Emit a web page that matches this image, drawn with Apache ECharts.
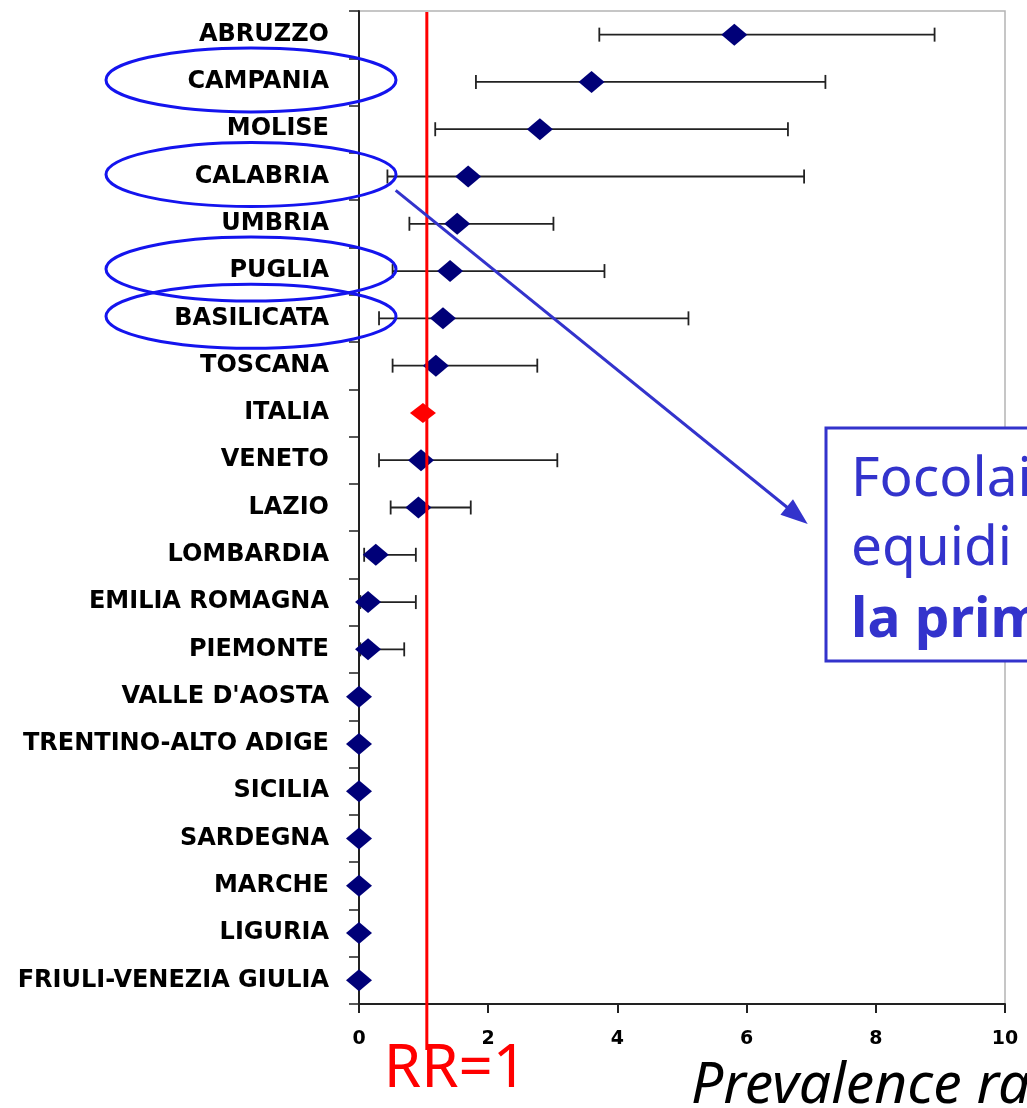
<!DOCTYPE html>
<html>
<head>
<meta charset="utf-8">
<script src="https://cdn.jsdelivr.net/npm/echarts@6/dist/echarts.min.js"></script>
<style>
html,body{margin:0;padding:0;background:#fff;}
#chart{width:1027px;height:1108px;}
</style>
</head>
<body>
<div id="chart"></div>
<script>
// ---- data ----
var categories = ['ABRUZZO','CAMPANIA','MOLISE','CALABRIA','UMBRIA','PUGLIA','BASILICATA','TOSCANA','ITALIA','VENETO','LAZIO','LOMBARDIA','EMILIA ROMAGNA','PIEMONTE',"VALLE D'AOSTA",'TRENTINO-ALTO ADIGE','SICILIA','SARDEGNA','MARCHE','LIGURIA','FRIULI-VENEZIA GIULIA'];
var estimate = [5.81, 3.60, 2.80, 1.69, 1.52, 1.41, 1.30, 1.19, 0.99, 0.96, 0.92, 0.26, 0.14, 0.14, 0, 0, 0, 0, 0, 0, 0];
var lower    = [3.72, 1.81, 1.18, 0.44, 0.78, 0.52, 0.31, 0.52, null, 0.31, 0.49, 0.08, 0.02, 0.02, null, null, null, null, null, null, null];
var upper    = [8.91, 7.22, 6.64, 6.89, 3.01, 3.80, 5.10, 2.76, null, 3.07, 1.73, 0.88, 0.88, 0.70, null, null, null, null, null, null, null];
var xTicks = [0, 2, 4, 6, 8, 10];
var referenceRR = 1.05;              // position of the red RR=1 line as drawn
var highlighted = ['CAMPANIA','CALABRIA','PUGLIA','BASILICATA'];
var xAxisName = 'Prevalence ratio';
var rrLabel = 'RR=1';
var noteLines = ['Focolai di WND negli', 'equidi con sintomi:', 'la prima volta'];

// ---- build series data ----
var italiaIdx = categories.indexOf('ITALIA');
var regionPoints = [], italiaPoints = [], ciData = [];
categories.forEach(function (c, i) {
  if (i === italiaIdx) italiaPoints.push([estimate[i], i]);
  else regionPoints.push([estimate[i], i]);
  if (lower[i] != null && upper[i] != null) ciData.push([i, lower[i], upper[i]]);
});

var chart = echarts.init(document.getElementById('chart'), null, {renderer: 'canvas'});

var option = {
  backgroundColor: '#ffffff',
  animation: false,
  grid: {left: 359, right: 22, top: 11, bottom: 104, show: true, borderColor: '#b4b4b4', borderWidth: 1.5,
         containLabel: false, outerBoundsMode: 'none'},
  xAxis: {
    type: 'value', min: xTicks[0], max: xTicks[xTicks.length - 1], interval: 2,
    axisLine: {show: true, onZero: false, lineStyle: {color: '#222', width: 2}},
    axisTick: {show: true, length: 9, lineStyle: {color: '#222', width: 2}},
    splitLine: {show: false},
    axisLabel: {color: '#000', fontFamily: 'DejaVu Sans', fontWeight: 'bold', fontSize: 19, margin: 26},
    name: xAxisName, nameLocation: 'middle', nameGap: 54,
    nameTextStyle: {color: '#000', fontFamily: 'Noto Sans', fontStyle: 'italic', fontSize: 57, align: 'left', padding: [0, 0, 0, 9]}
  },
  yAxis: {
    type: 'category', data: categories, inverse: true, boundaryGap: true,
    axisLine: {show: true, lineStyle: {color: '#222', width: 2}},
    axisTick: {show: true, length: 10, alignWithLabel: false, lineStyle: {color: '#222', width: 1.5}},
    splitLine: {show: false},
    axisLabel: {color: '#000', fontFamily: 'DejaVu Sans', fontWeight: 'bold', fontSize: 24, margin: 30, interval: 0}
  },
  series: [
    {
      type: 'custom', name: 'CI', data: ciData, z: 2,
      encode: {x: [1, 2], y: 0},
      renderItem: function (params, api) {
        var cat = api.value(0);
        var p1 = api.coord([api.value(1), cat]);
        var p2 = api.coord([api.value(2), cat]);
        var h = 7;
        var st = {stroke: '#222222', lineWidth: 1.8};
        return {type: 'group', children: [
          {type: 'line', shape: {x1: p1[0], y1: p1[1], x2: p2[0], y2: p2[1]}, style: st},
          {type: 'line', shape: {x1: p1[0], y1: p1[1] - h, x2: p1[0], y2: p1[1] + h}, style: st},
          {type: 'line', shape: {x1: p2[0], y1: p2[1] - h, x2: p2[0], y2: p2[1] + h}, style: st}
        ]};
      }
    },
    {
      type: 'scatter', name: 'Regioni', data: regionPoints, z: 3,
      symbol: 'diamond', symbolSize: [26, 22],
      itemStyle: {color: '#000078', opacity: 1}
    },
    {
      type: 'scatter', name: 'Italia', data: italiaPoints, z: 3,
      symbol: 'diamond', symbolSize: [26, 20],
      itemStyle: {color: '#ff0000', opacity: 1}
    }
  ]
};
chart.setOption(option);

// ---- annotations positioned from the chart's own scales ----
var topPix = chart.convertToPixel({gridIndex: 0}, [referenceRR, 0]);
var rrX = topPix[0];
var gridTop = 11;
var graphics = [];

graphics.push({
  type: 'line', z: 100,
  shape: {x1: rrX, y1: gridTop + 1, x2: rrX, y2: 1050},
  style: {stroke: '#ff0000', lineWidth: 3}
});
graphics.push({
  type: 'text', z: 100, x: rrX - 43, y: 1070,
  style: {text: rrLabel, fill: '#ff0000', font: '60px "Noto Sans"', align: 'left', verticalAlign: 'middle'}
});

// ellipses around highlighted regions
var ellipseCenters = {};
highlighted.forEach(function (name) {
  var idx = categories.indexOf(name);
  var p = chart.convertToPixel({gridIndex: 0}, [0, idx]);
  var cy = p[1] - 2;
  ellipseCenters[name] = cy;
  graphics.push({
    type: 'ellipse', z: 100,
    shape: {cx: 251, cy: cy, rx: 145, ry: 32},
    style: {fill: null, stroke: '#1414ee', lineWidth: 3}
  });
});

// arrow from CALABRIA ellipse to the note box
var ax1 = 395.7, ay1 = ellipseCenters['CALABRIA'] + 15.8;
var ax2 = 807.7, ay2 = 524;
var ang = Math.atan2(ay2 - ay1, ax2 - ax1);
var headLen = 27, headHalf = 10;
var bx = ax2 - headLen * Math.cos(ang), by = ay2 - headLen * Math.sin(ang);
graphics.push({
  type: 'line', z: 100,
  shape: {x1: ax1, y1: ay1, x2: bx + 2 * Math.cos(ang), y2: by + 2 * Math.sin(ang)},
  style: {stroke: '#3333cc', lineWidth: 3}
});
graphics.push({
  type: 'polygon', z: 100,
  shape: {points: [[ax2, ay2],
    [bx + headHalf * Math.sin(ang), by - headHalf * Math.cos(ang)],
    [bx - headHalf * Math.sin(ang), by + headHalf * Math.cos(ang)]]},
  style: {fill: '#3333cc'}
});

// note box
graphics.push({
  type: 'rect', z: 100,
  shape: {x: 826, y: 428, width: 400, height: 233},
  style: {fill: '#ffffff', stroke: '#3333cc', lineWidth: 3}
});
var noteY = [480.5, 549.5, 621];
noteLines.forEach(function (t, i) {
  graphics.push({
    type: 'text', z: 101, x: 851, y: noteY[i],
    style: {text: t, fill: '#3333cc', font: (i === 2 ? 'bold ' : '') + '55px "Noto Sans"', align: 'left', verticalAlign: 'middle'}
  });
});

chart.setOption({graphic: graphics});
</script>
</body>
</html>
